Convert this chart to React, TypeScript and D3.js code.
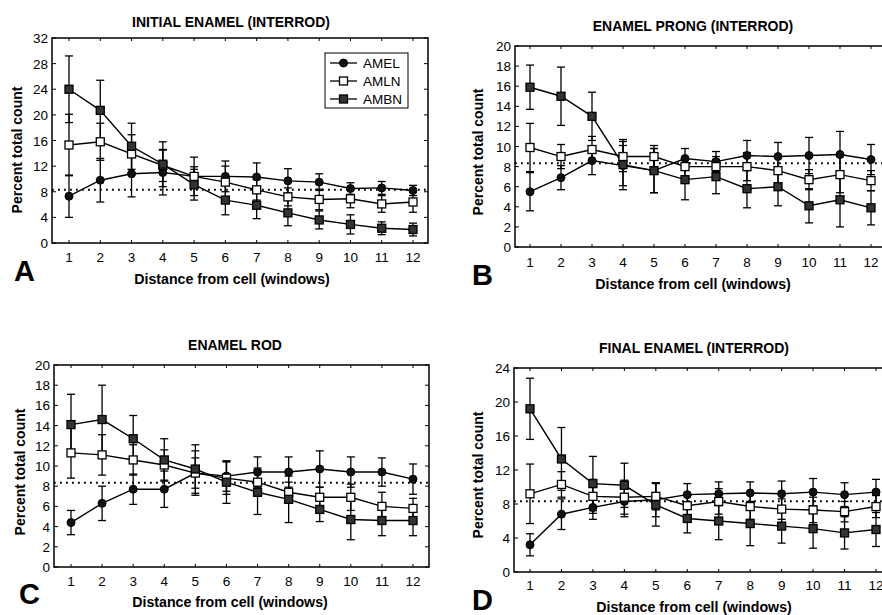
import React from "react";
import * as d3 from "d3";

// x categories: distance from cell (windows)
const WINDOWS = [1, 2, 3, 4, 5, 6, 7, 8, 9, 10, 11, 12];
const SERIES = ["AMEL", "AMLN", "AMBN"];
const CHANCE = 8.33; // dotted line

// A - initial enamel (interrod)
const A_AMEL = [7.3, 9.8, 10.8, 11.0, 10.4, 10.4, 10.3, 9.7, 9.5, 8.5, 8.6, 8.2];
const A_AMEL_ERR = [3.3, 3.4, 3.6, 3.5, 3.0, 2.4, 2.2, 1.9, 1.3, 0.9, 1.0, 0.8];
const A_AMLN = [15.3, 15.8, 13.9, 12.1, 10.4, 9.5, 8.3, 7.2, 6.8, 6.9, 6.1, 6.4];
const A_AMLN_ERR = [4.8, 2.9, 3.0, 2.5, 1.5, 2.5, 1.6, 1.4, 1.6, 1.4, 1.3, 1.6];
const A_AMBN = [24.0, 20.7, 15.1, 12.3, 9.1, 6.7, 5.9, 4.7, 3.6, 2.9, 2.3, 2.1];
const A_AMBN_ERR = [5.2, 4.7, 3.6, 3.5, 2.4, 2.3, 2.1, 2.0, 1.4, 1.5, 1.0, 1.0];
const A_Y_TICKS = [0, 4, 8, 12, 16, 20, 24, 28, 32];

// B - enamel prong (interrod)
const B_AMEL = [5.5, 6.9, 8.6, 8.1, 7.6, 8.8, 8.5, 9.1, 9.0, 9.1, 9.2, 8.7];
const B_AMEL_ERR = [1.9, 1.2, 1.4, 2.0, 2.2, 1.0, 1.0, 1.5, 1.4, 1.8, 2.3, 1.5];
const B_AMLN = [9.9, 9.0, 9.7, 9.0, 9.0, 8.0, 8.0, 8.0, 7.6, 6.7, 7.2, 6.6];
const B_AMLN_ERR = [2.4, 1.2, 1.3, 1.5, 1.1, 1.0, 1.0, 1.4, 1.4, 1.0, 1.8, 1.0];
const B_AMBN = [15.9, 15.0, 13.0, 8.2, 7.6, 6.7, 7.0, 5.8, 6.0, 4.1, 4.7, 3.9];
const B_AMBN_ERR = [2.2, 2.9, 2.4, 2.5, 2.2, 2.0, 1.7, 1.9, 1.9, 1.7, 2.7, 1.7];
const B_Y_TICKS = [0, 2, 4, 6, 8, 10, 12, 14, 16, 18, 20];

// C - enamel rod
const C_AMEL = [4.4, 6.3, 7.7, 7.7, 9.3, 9.0, 9.4, 9.4, 9.7, 9.4, 9.4, 8.7];
const C_AMEL_ERR = [1.2, 1.7, 1.5, 1.8, 2.2, 1.5, 1.5, 1.5, 1.8, 1.5, 1.4, 1.5];
const C_AMLN = [11.3, 11.1, 10.6, 10.1, 9.3, 8.8, 8.4, 7.4, 6.9, 6.9, 6.0, 5.8];
const C_AMLN_ERR = [2.5, 2.0, 1.5, 1.5, 1.5, 1.6, 1.4, 1.0, 1.0, 1.3, 1.4, 1.0];
const C_AMBN = [14.1, 14.6, 12.7, 10.6, 9.7, 8.4, 7.4, 6.7, 5.7, 4.7, 4.6, 4.6];
const C_AMBN_ERR = [3.0, 3.4, 2.3, 2.1, 2.4, 2.1, 2.2, 2.3, 1.2, 2.0, 1.5, 1.5];
const C_Y_TICKS = [0, 2, 4, 6, 8, 10, 12, 14, 16, 18, 20];

// D - final enamel (interrod)
const D_AMEL = [3.2, 6.8, 7.6, 8.3, 8.5, 9.1, 9.2, 9.3, 9.2, 9.4, 9.1, 9.4];
const D_AMEL_ERR = [1.3, 1.8, 1.4, 1.8, 2.0, 1.3, 1.4, 1.3, 1.5, 1.6, 1.4, 1.5];
const D_AMLN = [9.2, 10.3, 8.9, 8.8, 8.9, 7.8, 8.3, 7.7, 7.4, 7.3, 7.1, 7.7];
const D_AMLN_ERR = [3.5, 1.5, 2.0, 2.0, 1.6, 1.2, 1.5, 1.5, 1.2, 1.5, 1.2, 1.3];
const D_AMBN = [19.2, 13.3, 10.4, 10.2, 7.9, 6.3, 6.0, 5.7, 5.4, 5.1, 4.6, 5.0];
const D_AMBN_ERR = [3.6, 3.7, 3.2, 2.6, 2.5, 1.7, 2.2, 2.6, 2.0, 2.3, 1.9, 2.0];
const D_Y_TICKS = [0, 4, 8, 12, 16, 20, 24];

const FONT = "'Liberation Sans', Arial, Helvetica, sans-serif";

const panels = [
  {
    title: "INITIAL ENAMEL (INTERROD)", letter: "A", ticks: A_Y_TICKS,
    means: [A_AMEL, A_AMLN, A_AMBN], errs: [A_AMEL_ERR, A_AMLN_ERR, A_AMBN_ERR],
    left: 52, right: 428, top: 38, bottom: 243, x1: 69, x12: 413,
    titleX: 231, titleY: 27, yLabX: 22, yLabY: 150, tickY: 262, xLabX: 232, xLabY: 284,
    letterX: 14, letterY: 281, legend: true,
  },
  {
    title: "ENAMEL PRONG (INTERROD)", letter: "B", ticks: B_Y_TICKS,
    means: [B_AMEL, B_AMLN, B_AMBN], errs: [B_AMEL_ERR, B_AMLN_ERR, B_AMBN_ERR],
    left: 515, right: 887, top: 46, bottom: 247, x1: 530, x12: 871,
    titleX: 693, titleY: 31, yLabX: 483, yLabY: 152, tickY: 267, xLabX: 693, xLabY: 289,
    letterX: 472, letterY: 285, legend: false,
  },
  {
    title: "ENAMEL ROD", letter: "C", ticks: C_Y_TICKS,
    means: [C_AMEL, C_AMLN, C_AMBN], errs: [C_AMEL_ERR, C_AMLN_ERR, C_AMBN_ERR],
    left: 54, right: 429, top: 365, bottom: 567, x1: 71, x12: 413,
    titleX: 235, titleY: 350, yLabX: 25, yLabY: 472, tickY: 586, xLabX: 230, xLabY: 607,
    letterX: 19, letterY: 604, legend: false,
  },
  {
    title: "FINAL ENAMEL (INTERROD)", letter: "D", ticks: D_Y_TICKS,
    means: [D_AMEL, D_AMLN, D_AMBN], errs: [D_AMEL_ERR, D_AMLN_ERR, D_AMBN_ERR],
    left: 514, right: 891, top: 368, bottom: 572, x1: 530, x12: 876,
    titleX: 694, titleY: 353, yLabX: 483, yLabY: 475, tickY: 590, xLabX: 694, xLabY: 612,
    letterX: 472, letterY: 610, legend: false,
  },
];

const Marker = ({ kind, cx, cy }) => {
  if (kind === 0) return <circle cx={cx} cy={cy} r={4} fill="#111" stroke="#000" />;
  const s = 8;
  return (
    <rect
      x={cx - s / 2} y={cy - s / 2} width={s} height={s}
      fill={kind === 1 ? "#fff" : "#333"} stroke="#000" strokeWidth={1.3}
    />
  );
};

const Panel = ({ p }) => {
  const x = d3.scaleLinear().domain([1, 12]).range([p.x1, p.x12]);
  const yMax = p.ticks[p.ticks.length - 1];
  const y = d3.scaleLinear().domain([0, yMax]).range([p.bottom, p.top]);
  const line = d3.line<number>().x((_, i) => x(WINDOWS[i])).y((d) => y(d));
  const cap = 4;

  return (
    <g fontFamily={FONT} fill="#000">
      <text x={p.titleX} y={p.titleY} textAnchor="middle" fontSize={14} fontWeight="bold">{p.title}</text>

      {/* dotted chance line */}
      <line x1={p.left} x2={p.right} y1={y(CHANCE)} y2={y(CHANCE)}
        stroke="#000" strokeWidth={2} strokeDasharray="1.8 4.2" />

      {/* error bars */}
      {p.means.map((m, si) => (
        <g key={"e" + si} stroke="#000" strokeWidth={1.3}>
          {m.map((v, i) => {
            const cx = x(WINDOWS[i]);
            const lo = y(v - p.errs[si][i]);
            const hi = y(v + p.errs[si][i]);
            return (
              <g key={i}>
                <line x1={cx} x2={cx} y1={lo} y2={hi} />
                <line x1={cx - cap} x2={cx + cap} y1={lo} y2={lo} />
                <line x1={cx - cap} x2={cx + cap} y1={hi} y2={hi} />
              </g>
            );
          })}
        </g>
      ))}

      {p.means.map((m, si) => (
        <path key={"l" + si} d={line(m)} fill="none" stroke="#000" strokeWidth={1.4} />
      ))}

      {p.means.map((m, si) => (
        <g key={"m" + si}>
          {m.map((v, i) => (
            <Marker key={i} kind={si} cx={x(WINDOWS[i])} cy={y(v)} />
          ))}
        </g>
      ))}

      {/* frame */}
      <rect x={p.left} y={p.top} width={p.right - p.left} height={p.bottom - p.top}
        fill="none" stroke="#000" strokeWidth={1.5} />

      {/* y ticks */}
      {p.ticks.map((t) => (
        <g key={"yt" + t}>
          <line x1={p.left} x2={p.left + 4} y1={y(t)} y2={y(t)} stroke="#000" />
          <line x1={p.right} x2={p.right - 4} y1={y(t)} y2={y(t)} stroke="#000" />
          <text x={p.left - 4} y={y(t) + 5} textAnchor="end" fontSize={13.5}>{t}</text>
        </g>
      ))}

      {/* x ticks */}
      {WINDOWS.map((w) => (
        <g key={"xt" + w}>
          <line x1={x(w)} x2={x(w)} y1={p.bottom} y2={p.bottom - 3} stroke="#000" />
          <line x1={x(w)} x2={x(w)} y1={p.top} y2={p.top + 3} stroke="#000" />
          <text x={x(w)} y={p.tickY} textAnchor="middle" fontSize={13.5}>{w}</text>
        </g>
      ))}

      <text x={p.xLabX} y={p.xLabY} textAnchor="middle" fontSize={14.2} fontWeight="bold">
        Distance from cell (windows)
      </text>
      <text transform={`translate(${p.yLabX},${p.yLabY}) rotate(-90)`} textAnchor="middle"
        fontSize={14} fontWeight="bold">
        Percent total count
      </text>
      <text x={p.letterX} y={p.letterY} fontSize={29} fontWeight="bold">{p.letter}</text>

      {p.legend && (
        <g>
          <rect x={325} y={53} width={83} height={55} fill="#fff" stroke="#000" strokeWidth={1} />
          {SERIES.map((s, si) => {
            const ly = 63 + si * 18;
            return (
              <g key={s}>
                <line x1={330} x2={357} y1={ly} y2={ly} stroke="#000" strokeWidth={1.3} />
                <Marker kind={si} cx={343.5} cy={ly} />
                <text x={363} y={ly + 5} fontSize={13.5}>{s}</text>
              </g>
            );
          })}
        </g>
      )}
    </g>
  );
}

export default function App() {
  return (
    <svg width={882} height={615} style={{ position: "absolute", left: 0, top: 0, background: "#fff" }}>
      {panels.map((p) => (
        <Panel key={p.letter} p={p} />
      ))}
    </svg>
  );
}
